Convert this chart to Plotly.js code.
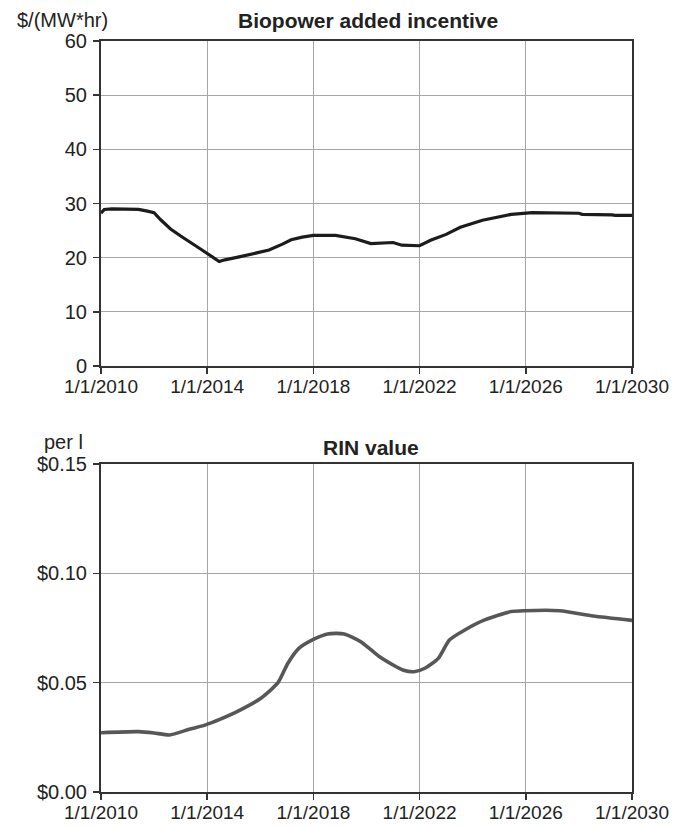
<!DOCTYPE html>
<html>
<head>
<meta charset="utf-8">
<script src="https://cdn.plot.ly/plotly-3.0.1.min.js"></script>
<style>html,body{margin:0;padding:0;background:#fff;}#chart{width:686px;height:826px;}</style>
</head>
<body>
<div id="chart"></div>
<script>
// Biopower added incentive, $/(MW*hr)
const bioDates = ['2010-01-01','2010-02-15','2010-06-01','2011-01-01','2011-06-01','2011-10-01','2012-01-01','2012-04-01','2012-08-15','2013-01-01','2013-05-01','2013-10-01','2014-06-15','2014-09-01','2015-03-01','2015-09-01','2016-05-01','2016-11-01','2017-03-01','2017-08-01','2018-01-01','2018-11-01','2019-08-01','2020-03-01','2020-06-01','2021-01-01','2021-05-01','2022-01-01','2022-06-01','2023-01-01','2023-07-15','2024-05-15','2025-06-15','2026-04-01','2028-01-01','2028-02-15','2029-04-01','2029-05-15','2030-01-01'];
const bioValues = [28.2,28.9,29.0,29.0,28.9,28.6,28.3,27.0,25.3,24.0,23.0,21.6,19.3,19.6,20.1,20.6,21.4,22.5,23.3,23.8,24.1,24.1,23.5,22.6,22.7,22.8,22.3,22.2,23.2,24.3,25.6,26.9,28.0,28.3,28.2,28.0,27.9,27.8,27.8];

// RIN value, $ per l
const rinDates = ['2010-01-01','2011-06-01','2012-01-01','2012-08-01','2013-05-01','2013-12-01','2014-07-01','2015-03-15','2016-01-15','2016-09-01','2017-01-15','2017-06-15','2018-01-01','2018-07-15','2019-03-01','2019-10-15','2020-06-15','2021-01-01','2021-05-15','2021-10-15','2022-03-15','2022-09-15','2023-02-15','2023-09-15','2024-06-15','2025-06-15','2025-12-15','2027-04-15','2028-07-15','2030-01-01'];
const rinValues = [0.0271,0.0276,0.0270,0.0261,0.0287,0.0306,0.0333,0.0372,0.0430,0.0500,0.0589,0.0657,0.0698,0.0723,0.0723,0.0687,0.0622,0.0581,0.0558,0.0550,0.0566,0.0611,0.0695,0.0741,0.0787,0.0825,0.0829,0.0829,0.0805,0.0785];

const xTicks = ['2010-01-01','2014-01-01','2018-01-01','2022-01-01','2026-01-01','2030-01-01'];
const xTickText = ['1/1/2010','1/1/2014','1/1/2018','1/1/2022','1/1/2026','1/1/2030'];
const rinTicks = [0, 0.05, 0.10, 0.15];
const rinTickText = ['$0.00','$0.05','$0.10','$0.15'];

const FONT = 'Liberation Sans, Arial, sans-serif';
const W = 686, H = 826;

const xCommon = {
  type: 'date',
  range: ['2010-01-01','2030-01-01'],
  tickvals: xTicks, ticktext: xTickText,
  showgrid: true, gridcolor: '#a6a6a6', gridwidth: 1,
  showline: true, linecolor: '#333', linewidth: 2, mirror: true,
  ticks: 'outside', ticklen: 6, tickwidth: 1.5, tickcolor: '#333',
  ticklabelstandoff: -4,
  tickfont: {family: FONT, size: 19, color: '#222'},
  zeroline: false, fixedrange: true
};
const yCommon = {
  showgrid: true, gridcolor: '#a6a6a6', gridwidth: 1,
  showline: true, linecolor: '#333', linewidth: 2, mirror: true,
  ticks: 'outside', ticklen: 6, tickwidth: 1.5, tickcolor: '#333',
  ticklabelstandoff: 2,
  tickfont: {family: FONT, size: 20, color: '#222'},
  zeroline: false, fixedrange: true
};

const traces = [
  {x: bioDates, y: bioValues, xaxis: 'x', yaxis: 'y', mode: 'lines', type: 'scatter',
   line: {color: '#1c1c1c', width: 3.2}, hoverinfo: 'skip'},
  {x: rinDates, y: rinValues, xaxis: 'x2', yaxis: 'y2', mode: 'lines', type: 'scatter',
   line: {color: '#575757', width: 3.6, shape: 'spline', smoothing: 0.6}, hoverinfo: 'skip'}
];

const xDom = [101/W, 632/W];
const layout = {
  width: W, height: H,
  margin: {l: 0, r: 0, t: 0, b: 0},
  paper_bgcolor: '#fff', plot_bgcolor: '#fff',
  showlegend: false,
  font: {family: FONT, color: '#222'},
  xaxis: Object.assign({}, xCommon, {domain: xDom, anchor: 'y'}),
  yaxis: Object.assign({}, yCommon, {domain: [1-366/H, 1-41/H], range: [0, 60], dtick: 10, anchor: 'x'}),
  xaxis2: Object.assign({}, xCommon, {domain: xDom, anchor: 'y2'}),
  yaxis2: Object.assign({}, yCommon, {domain: [1-792/H, 1-464/H], range: [0, 0.15], tickvals: rinTicks, ticktext: rinTickText, anchor: 'x2'}),
  annotations: [
    {text: '<b>Biopower added incentive</b>', xref: 'paper', yref: 'paper', x: 368/W, y: 1-20/H, xanchor: 'center', yanchor: 'middle', showarrow: false, font: {family: FONT, size: 21, color: '#222'}},
    {text: '$/(MW*hr)', xref: 'paper', yref: 'paper', x: 62/W, y: 1-20/H, xanchor: 'center', yanchor: 'middle', showarrow: false, font: {family: FONT, size: 20, color: '#222'}},
    {text: '<b>RIN value</b>', xref: 'paper', yref: 'paper', x: 371/W, y: 1-447/H, xanchor: 'center', yanchor: 'middle', showarrow: false, font: {family: FONT, size: 21, color: '#222'}},
    {text: 'per l', xref: 'paper', yref: 'paper', x: 63/W, y: 1-442/H, xanchor: 'center', yanchor: 'middle', showarrow: false, font: {family: FONT, size: 20, color: '#222'}}
  ]
};

Plotly.newPlot('chart', traces, layout, {displayModeBar: false, staticPlot: true});
</script>
</body>
</html>
